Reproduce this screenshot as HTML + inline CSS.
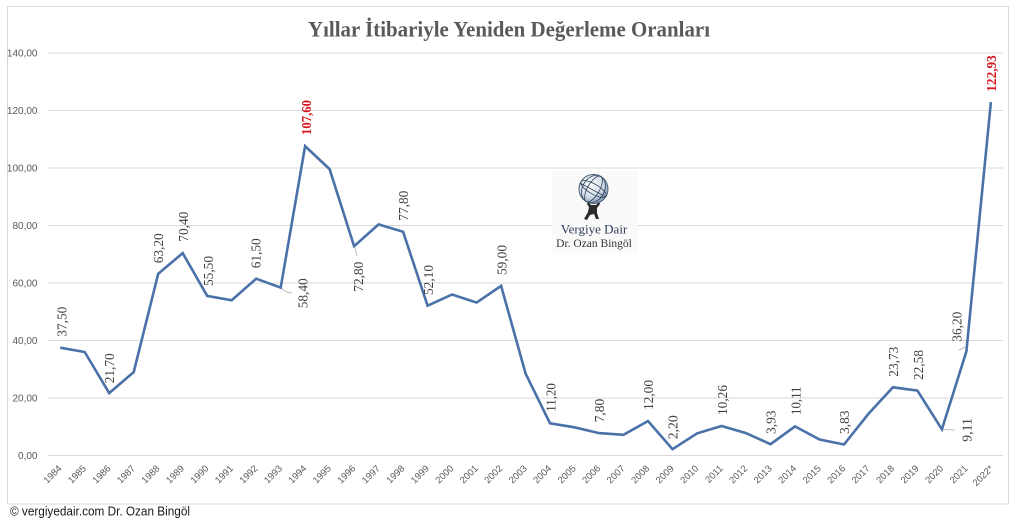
<!DOCTYPE html>
<html><head><meta charset="utf-8"><style>
html,body{margin:0;padding:0;background:#fff;}
svg{display:block;}
</style></head><body>
<svg width="1024" height="523" viewBox="0 0 1024 523" xmlns="http://www.w3.org/2000/svg">
<rect x="0" y="0" width="1024" height="523" fill="#fff"/>
<rect x="7.5" y="6.5" width="1001" height="497.5" fill="#fff" stroke="#d9d9d9" stroke-width="1"/>
<text x="509" y="36.5" text-anchor="middle" font-family="Liberation Serif, serif" font-weight="bold" font-size="22" fill="#595959" textLength="402" lengthAdjust="spacingAndGlyphs">Yıllar İtibariyle Yeniden Değerleme Oranları</text>
<g stroke="#d9d9d9" stroke-width="1">
<line x1="48" y1="455.5" x2="1003" y2="455.5"/>
<line x1="48" y1="398" x2="1003" y2="398"/>
<line x1="48" y1="340.5" x2="1003" y2="340.5"/>
<line x1="48" y1="283" x2="1003" y2="283"/>
<line x1="48" y1="225.5" x2="1003" y2="225.5"/>
<line x1="48" y1="168" x2="1003" y2="168"/>
<line x1="48" y1="110.5" x2="1003" y2="110.5"/>
<line x1="48" y1="53" x2="1003" y2="53"/>
</g>
<g font-family="Liberation Sans, sans-serif" font-size="10" fill="#595959" text-anchor="end">
<text x="37.5" y="459">0,00</text>
<text x="37.5" y="401.5">20,00</text>
<text x="37.5" y="344">40,00</text>
<text x="37.5" y="286.5">60,00</text>
<text x="37.5" y="229">80,00</text>
<text x="37.5" y="171.5">100,00</text>
<text x="37.5" y="114">120,00</text>
<text x="37.5" y="56.5">140,00</text>
</g>
<!-- logo -->
<rect x="552" y="171" width="86" height="82" fill="#fafafa"/>
<defs>
<radialGradient id="gl" cx="0.4" cy="0.35" r="0.75">
<stop offset="0" stop-color="#ffffff"/><stop offset="0.55" stop-color="#d3dde9"/><stop offset="1" stop-color="#6e85a3"/>
</radialGradient>
</defs>
<circle cx="593.5" cy="189" r="14.5" fill="url(#gl)" stroke="#4a5f7a" stroke-width="1"/>
<g stroke="#33465f" stroke-width="0.8" fill="none">
<ellipse cx="593.5" cy="189" rx="6" ry="14.5" transform="rotate(30 593.5 189)"/>
<ellipse cx="593.5" cy="189" rx="14.5" ry="5" transform="rotate(30 593.5 189)"/>
<ellipse cx="593.5" cy="189" rx="11" ry="14.5" transform="rotate(30 593.5 189)"/>
<line x1="580" y1="183" x2="606" y2="197"/>
</g>
<path d="M588 202 L591 205 L596 205 L599 202 L600 204 L597 208 L597 213 L599 219 L596 219 L594 214 L590 215 L587 220 L584 219 L588 212 L589 207 L587 204 Z" fill="#2a2a2a"/>
<text x="594" y="233.5" text-anchor="middle" font-family="Liberation Serif, serif" font-size="13" fill="#2f3c57">Vergiye Dair</text>
<text x="594" y="247" text-anchor="middle" font-family="Liberation Serif, serif" font-size="11.5" fill="#333">Dr. Ozan Bingöl</text>
<!-- leader lines -->
<g stroke="#bfbfbf" stroke-width="1" fill="none">
<polyline points="281.5,288.5 287,292 292,293"/>
<polyline points="355,248 357,256"/>
<polyline points="943,429.5 955,430"/>
<polyline points="959,350 965,347"/>
</g>
<polyline fill="none" stroke="#4a71a8" stroke-width="2.6" stroke-linejoin="miter" points="60.2,347.7 84.7,352 109.2,393.1 133.7,372.1 158.2,273.8 182.7,253.1 207.2,295.9 231.7,300.25 256.2,278.7 280.7,287.6 305.1,146.15 329.6,169.15 354.1,246.2 378.6,224.35 403.1,231.8 427.6,305.7 452.1,294.5 476.6,302.55 501.1,285.9 525.6,373.6 550,423.3 574.5,427.3 599,433.1 623.5,434.8 648,421 672.5,449.2 697,433.4 721.5,426 746,433.1 770.5,444.2 795,426.4 819.5,439.5 844,444.5 868.4,413.9 892.9,387.3 917.4,390.6 941.9,429.3 966.4,351.4 990.9,102.1"/>
<!-- data labels -->
<g font-family="Liberation Serif, serif" font-size="13.5" fill="#404040">
<text transform="translate(66.4,336.7) rotate(-90)" textLength="30" lengthAdjust="spacingAndGlyphs">37,50</text>
<text transform="translate(114,383.3) rotate(-90)" textLength="30" lengthAdjust="spacingAndGlyphs">21,70</text>
<text transform="translate(163,263.3) rotate(-90)" textLength="30" lengthAdjust="spacingAndGlyphs">63,20</text>
<text transform="translate(188,241.7) rotate(-90)" textLength="30" lengthAdjust="spacingAndGlyphs">70,40</text>
<text transform="translate(213,286) rotate(-90)" textLength="30" lengthAdjust="spacingAndGlyphs">55,50</text>
<text transform="translate(260.7,268.3) rotate(-90)" textLength="30" lengthAdjust="spacingAndGlyphs">61,50</text>
<text transform="translate(307.4,308.3) rotate(-90)" textLength="30" lengthAdjust="spacingAndGlyphs">58,40</text>
<text transform="translate(363,291.7) rotate(-90)" textLength="30" lengthAdjust="spacingAndGlyphs">72,80</text>
<text transform="translate(408,220.7) rotate(-90)" textLength="30" lengthAdjust="spacingAndGlyphs">77,80</text>
<text transform="translate(433,295) rotate(-90)" textLength="30" lengthAdjust="spacingAndGlyphs">52,10</text>
<text transform="translate(506.4,275) rotate(-90)" textLength="30" lengthAdjust="spacingAndGlyphs">59,00</text>
<text transform="translate(555.7,411.7) rotate(-90)" textLength="28.5" lengthAdjust="spacingAndGlyphs">11,20</text>
<text transform="translate(604,422.3) rotate(-90)" textLength="23.5" lengthAdjust="spacingAndGlyphs">7,80</text>
<text transform="translate(653,410) rotate(-90)" textLength="30" lengthAdjust="spacingAndGlyphs">12,00</text>
<text transform="translate(677.4,439.3) rotate(-90)" textLength="24" lengthAdjust="spacingAndGlyphs">2,20</text>
<text transform="translate(727,415) rotate(-90)" textLength="30" lengthAdjust="spacingAndGlyphs">10,26</text>
<text transform="translate(775.4,434) rotate(-90)" textLength="23.5" lengthAdjust="spacingAndGlyphs">3,93</text>
<text transform="translate(800.4,415) rotate(-90)" textLength="28.5" lengthAdjust="spacingAndGlyphs">10,11</text>
<text transform="translate(849,434) rotate(-90)" textLength="23.5" lengthAdjust="spacingAndGlyphs">3,83</text>
<text transform="translate(898,376.7) rotate(-90)" textLength="30" lengthAdjust="spacingAndGlyphs">23,73</text>
<text transform="translate(923,380) rotate(-90)" textLength="30" lengthAdjust="spacingAndGlyphs">22,58</text>
<text transform="translate(971.4,441.7) rotate(-90)" textLength="23.5" lengthAdjust="spacingAndGlyphs">9,11</text>
<text transform="translate(961.4,341.7) rotate(-90)" textLength="30" lengthAdjust="spacingAndGlyphs">36,20</text>
</g>
<g font-family="Liberation Serif, serif" font-size="14" font-weight="bold" fill="#d9141e">
<text transform="translate(311,135) rotate(-90)" textLength="35" lengthAdjust="spacingAndGlyphs">107,60</text>
<text transform="translate(995.8,91.7) rotate(-90)" textLength="36.5" lengthAdjust="spacingAndGlyphs">122,93</text>
</g>
<!-- x labels -->
<g font-family="Liberation Sans, sans-serif" font-size="9.5" fill="#595959" text-anchor="end">
<text transform="translate(62.2,469) rotate(-45)">1984</text>
<text transform="translate(86.7,469) rotate(-45)">1985</text>
<text transform="translate(111.2,469) rotate(-45)">1986</text>
<text transform="translate(135.7,469) rotate(-45)">1987</text>
<text transform="translate(160.2,469) rotate(-45)">1988</text>
<text transform="translate(184.7,469) rotate(-45)">1989</text>
<text transform="translate(209.2,469) rotate(-45)">1990</text>
<text transform="translate(233.7,469) rotate(-45)">1991</text>
<text transform="translate(258.2,469) rotate(-45)">1992</text>
<text transform="translate(282.7,469) rotate(-45)">1993</text>
<text transform="translate(307.1,469) rotate(-45)">1994</text>
<text transform="translate(331.6,469) rotate(-45)">1995</text>
<text transform="translate(356.1,469) rotate(-45)">1996</text>
<text transform="translate(380.6,469) rotate(-45)">1997</text>
<text transform="translate(405.1,469) rotate(-45)">1998</text>
<text transform="translate(429.6,469) rotate(-45)">1999</text>
<text transform="translate(454.1,469) rotate(-45)">2000</text>
<text transform="translate(478.6,469) rotate(-45)">2001</text>
<text transform="translate(503.1,469) rotate(-45)">2002</text>
<text transform="translate(527.6,469) rotate(-45)">2003</text>
<text transform="translate(552,469) rotate(-45)">2004</text>
<text transform="translate(576.5,469) rotate(-45)">2005</text>
<text transform="translate(601,469) rotate(-45)">2006</text>
<text transform="translate(625.5,469) rotate(-45)">2007</text>
<text transform="translate(650,469) rotate(-45)">2008</text>
<text transform="translate(674.5,469) rotate(-45)">2009</text>
<text transform="translate(699,469) rotate(-45)">2010</text>
<text transform="translate(723.5,469) rotate(-45)">2011</text>
<text transform="translate(748,469) rotate(-45)">2012</text>
<text transform="translate(772.5,469) rotate(-45)">2013</text>
<text transform="translate(797,469) rotate(-45)">2014</text>
<text transform="translate(821.5,469) rotate(-45)">2015</text>
<text transform="translate(846,469) rotate(-45)">2016</text>
<text transform="translate(870.4,469) rotate(-45)">2017</text>
<text transform="translate(894.9,469) rotate(-45)">2018</text>
<text transform="translate(919.4,469) rotate(-45)">2019</text>
<text transform="translate(943.9,469) rotate(-45)">2020</text>
<text transform="translate(968.4,469) rotate(-45)">2021</text>
<text transform="translate(993.9,469) rotate(-45)">2022*</text>
</g>
<text x="10" y="515.5" font-family="Liberation Sans, sans-serif" font-size="12.5" fill="#1a1a1a" textLength="180" lengthAdjust="spacingAndGlyphs">© vergiyedair.com Dr. Ozan Bingöl</text>
</svg>
</body></html>
